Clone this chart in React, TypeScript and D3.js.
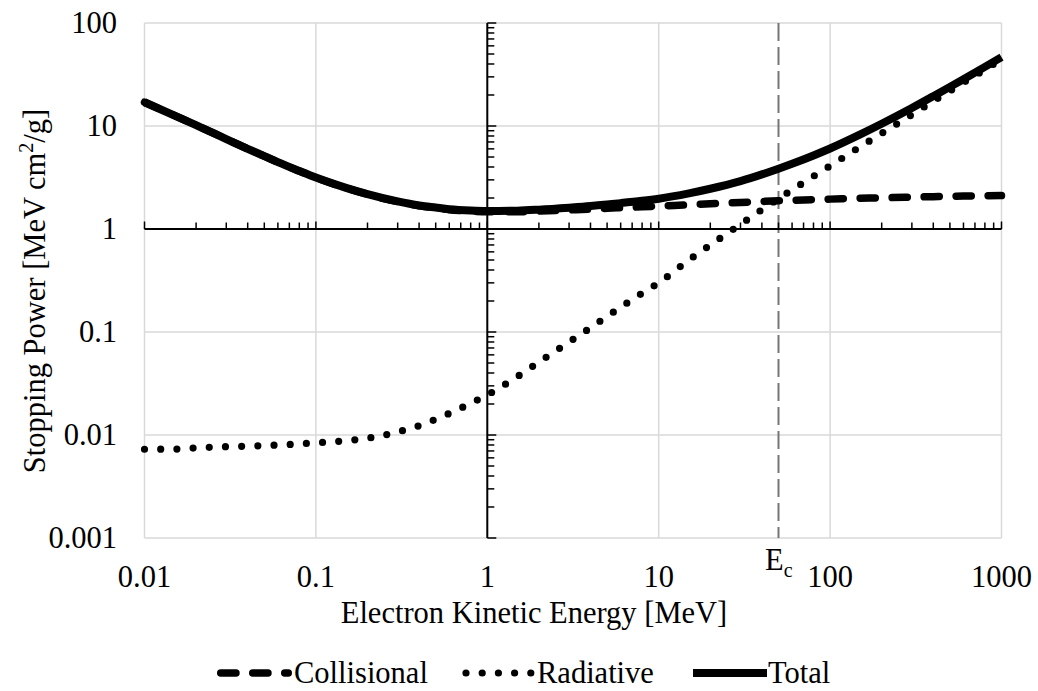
import React from "react";
import * as d3 from "d3";

const energies = [0.01, 0.015, 0.02, 0.03, 0.04, 0.05, 0.06, 0.08, 0.1, 0.15, 0.2, 0.3, 0.4, 0.5, 0.6, 0.8, 1, 1.5, 2, 3, 4, 5, 6, 8, 10, 15, 20, 30, 40, 50, 60, 80, 100, 150, 200, 300, 400, 500, 600, 800, 1000];
const collisional = [17.0, 12.6, 10.2, 7.45, 6.0, 5.1, 4.45, 3.65, 3.15, 2.5, 2.17, 1.84, 1.68, 1.6, 1.54, 1.49, 1.47, 1.47, 1.49, 1.53, 1.56, 1.59, 1.61, 1.64, 1.67, 1.72, 1.76, 1.81, 1.85, 1.88, 1.9, 1.93, 1.95, 1.99, 2.01, 2.04, 2.06, 2.08, 2.09, 2.1, 2.11];
const radiative = [0.00727, 0.0073, 0.0075, 0.0077, 0.0078, 0.0079, 0.008, 0.0082, 0.0084, 0.0088, 0.0093, 0.0107, 0.0123, 0.0142, 0.0162, 0.0203, 0.0245, 0.037, 0.051, 0.08, 0.11, 0.142, 0.174, 0.238, 0.3, 0.5, 0.7, 1.11, 1.54, 1.97, 2.4, 3.25, 4.1, 6.3, 8.5, 12.9, 17.4, 21.9, 26.4, 35.4, 44.5];
const total = [17.007, 12.607, 10.208, 7.458, 6.008, 5.108, 4.458, 3.658, 3.158, 2.509, 2.179, 1.851, 1.692, 1.614, 1.556, 1.51, 1.495, 1.507, 1.541, 1.61, 1.67, 1.732, 1.784, 1.878, 1.97, 2.22, 2.46, 2.92, 3.39, 3.85, 4.3, 5.18, 6.05, 8.29, 10.51, 14.94, 19.46, 23.98, 28.49, 37.5, 46.61];

const xTicks = [0.01, 0.1, 1, 10, 100, 1000];
const xTickLabels = ["0.01", "0.1", "1", "10", "100", "1000"];
const yTicks = [0.001, 0.01, 0.1, 1, 10, 100];
const yTickLabels = ["0.001", "0.01", "0.1", "1", "10", "100"];
const criticalEnergy = 50;

const FONT = "'Liberation Serif', 'Times New Roman', serif";
const FS = 30.5;

export default function App() {
  const x = d3.scaleLog().domain([0.01, 1000]).range([144.5, 1001.5]);
  const y = d3.scaleLog().domain([0.001, 100]).range([538, 23]);

  const mk = (vals: number[]) =>
    d3
      .line<number>()
      .x((_, i) => x(energies[i]))
      .y((v) => y(v))
      .curve(d3.curveMonotoneX)(vals) || "";

  const minorX: number[] = [];
  for (let p = -2; p < 3; p++) for (let k = 2; k <= 9; k++) minorX.push(k * Math.pow(10, p));
  const minorY: number[] = [];
  for (let p = -3; p < 2; p++) for (let k = 2; k <= 9; k++) minorY.push(k * Math.pow(10, p));

  const axX = x(1);
  const axY = y(1);

  return (
    <svg width={1038} height={691} style={{ position: "absolute", left: 0, top: 0, background: "#fff" }} fontFamily={FONT}>
      <rect width={1038} height={691} fill="#fff" />
      {/* gridlines */}
      {xTicks.map((t) => (
        <line key={"gx" + t} x1={x(t)} x2={x(t)} y1={y(100)} y2={y(0.001)} stroke="#d9d9d9" strokeWidth={1.5} />
      ))}
      {yTicks.map((t) => (
        <line key={"gy" + t} x1={x(0.01)} x2={x(1000)} y1={y(t)} y2={y(t)} stroke="#d9d9d9" strokeWidth={1.5} />
      ))}
      {/* Ec line */}
      <line x1={x(criticalEnergy)} x2={x(criticalEnergy)} y1={y(100)} y2={y(0.001)} stroke="#767676" strokeWidth={2} strokeDasharray="18,6" />
      {/* axes */}
      <line x1={x(0.01)} x2={x(1000)} y1={axY} y2={axY} stroke="#000" strokeWidth={2} />
      <line x1={axX} x2={axX} y1={y(100)} y2={y(0.001)} stroke="#000" strokeWidth={2} />
      {xTicks.map((t) => (
        <line key={"mx" + t} x1={x(t)} x2={x(t)} y1={axY} y2={axY - 7.5} stroke="#000" strokeWidth={1.5} />
      ))}
      {minorX.map((t) => (
        <line key={"nx" + t} x1={x(t)} x2={x(t)} y1={axY} y2={axY - 6.5} stroke="#000" strokeWidth={1.5} />
      ))}
      {yTicks.map((t) => (
        <line key={"my" + t} x1={axX} x2={axX + 9} y1={y(t)} y2={y(t)} stroke="#000" strokeWidth={1.5} />
      ))}
      {minorY.map((t) => (
        <line key={"ny" + t} x1={axX} x2={axX + 7} y1={y(t)} y2={y(t)} stroke="#000" strokeWidth={1.5} />
      ))}
      {/* series */}
      <path d={mk(radiative)} fill="none" stroke="#000" strokeWidth={7.2} strokeLinecap="round" strokeDasharray="0,16.2" />
      <path d={mk(collisional)} fill="none" stroke="#000" strokeWidth={7.5} strokeLinecap="round" strokeDasharray="15.2,16.8" />
      <path d={mk(total)} fill="none" stroke="#000" strokeWidth={8} strokeLinejoin="round" />
      {/* tick labels */}
      {yTicks.map((t, i) => (
        <text key={"yl" + t} x={117} y={y(t) + 10} textAnchor="end" fontSize={FS} fill="#000">
          {yTickLabels[i]}
        </text>
      ))}
      {xTicks.map((t, i) => (
        <text key={"xl" + t} x={x(t)} y={587} textAnchor="middle" fontSize={FS} fill="#000">
          {xTickLabels[i]}
        </text>
      ))}
      <text x={765} y={570} fontSize={FS} fill="#000">
        E<tspan fontSize={20} dy={7}>c</tspan>
      </text>
      {/* axis titles */}
      <text x={534} y={623} textAnchor="middle" fontSize={FS} fill="#000">
        Electron Kinetic Energy [MeV]
      </text>
      <text transform="translate(45,291) rotate(-90)" textAnchor="middle" fontSize={FS} fill="#000">
        Stopping Power [MeV cm<tspan fontSize={20} dy={-12}>2</tspan>
        <tspan dy={12}>/g]</tspan>
      </text>
      {/* legend */}
      <line x1={220.75} x2={288.25} y1={673} y2={673} stroke="#000" strokeWidth={7.5} strokeLinecap="round" strokeDasharray="15.2,16.8" />
      <text x={294} y={683} fontSize={FS} fill="#000">Collisional</text>
      <line x1={466} x2={532} y1={673} y2={673} stroke="#000" strokeWidth={7.2} strokeLinecap="round" strokeDasharray="0,16.2" />
      <text x={537} y={683} fontSize={FS} fill="#000">Radiative</text>
      <line x1={693} x2={767} y1={673} y2={673} stroke="#000" strokeWidth={8} />
      <text x={768} y={683} fontSize={FS} fill="#000">Total</text>
    </svg>
  );
}
